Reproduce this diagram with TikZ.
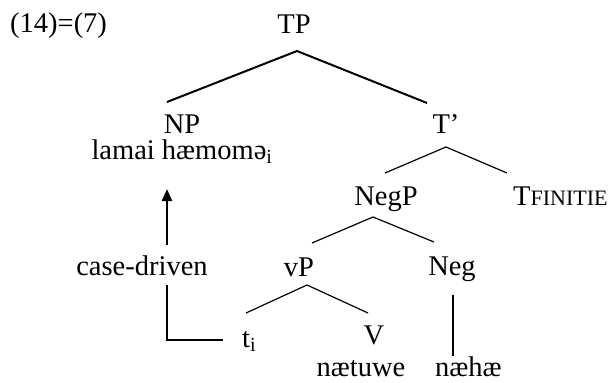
\documentclass[tikz,border=0pt]{standalone}
\usepackage{fontspec}
\setmainfont{Liberation Serif}
\usetikzlibrary{arrows.meta}
\begin{document}
\begin{tikzpicture}[x=1pt,y=-1pt,
  lbl/.style={inner sep=0pt,anchor=base,font=\fontsize{28.5}{34}\selectfont},
  thickbr/.style={line width=2pt},
  thinbr/.style={line width=1.2pt},
  movearrow/.style={line width=2.4pt,-{Triangle[length=12pt,width=10pt]}},
  traceline/.style={line width=1.5pt}]
\useasboundingbox (0,0) rectangle (611,383);
\node[lbl,anchor=base west] (ex) at (10,32) {(14)=(7)};
\node[lbl] (TP) at (294,33) {TP};
\node[lbl] (NP) at (182,133) {NP};
\node[lbl] (lamai) at (182,159) {lamai hæmomə\textsubscript{i}};
\node[lbl] (Tbar) at (446,133) {T’};
\node[lbl] (NegP) at (386,205) {NegP};
\node[lbl,anchor=base west] (Tfin) at (513,205) {T{\fontsize{22}{26}\selectfont FINITIE}};
\node[lbl] (vP) at (299,276) {vP};
\node[lbl] (Neg) at (452,275) {Neg};
\node[lbl] (case) at (142,275) {case-driven};
\node[lbl,anchor=base west] (ti) at (242,347) {t\textsubscript{i}};
\node[lbl] (V) at (374,344) {V};
\node[lbl] (naetuwe) at (361,376) {nætuwe};
\node[lbl,anchor=base west] (naehae) at (435,376) {næhæ};
% branch points
\coordinate (TPb) at (297,51);
\coordinate (NPt) at (167,102);
\coordinate (Tbt) at (427,103);
\coordinate (Tbb) at (446,147);
\coordinate (NegPt) at (385,173);
\coordinate (Tfint) at (507,173);
\coordinate (NegPb) at (373,217);
\coordinate (vPt) at (312,243);
\coordinate (Negt) at (434,242);
\coordinate (vPb) at (307,285);
\coordinate (tit) at (246,313);
\coordinate (Vt) at (368,313);
\coordinate (Negb) at (453,295);
\coordinate (naehaet) at (453,356);
\coordinate (arrB) at (167,245);
\coordinate (arrT) at (167,189);
\coordinate (trT) at (167,285);
\coordinate (trC) at (167,340);
\coordinate (trE) at (223,340);
\draw[thickbr] (NPt) -- (TPb) -- (Tbt);
\draw[thinbr] (NegPt) -- (Tbb) -- (Tfint);
\draw[thinbr] (vPt) -- (NegPb) -- (Negt);
\draw[thinbr] (tit) -- (vPb) -- (Vt);
\draw[thickbr] (Negb) -- (naehaet);
\draw[movearrow] (arrB) -- (arrT);
\draw[traceline] (trT) -- (trC) -- (trE);
\end{tikzpicture}
\end{document}
